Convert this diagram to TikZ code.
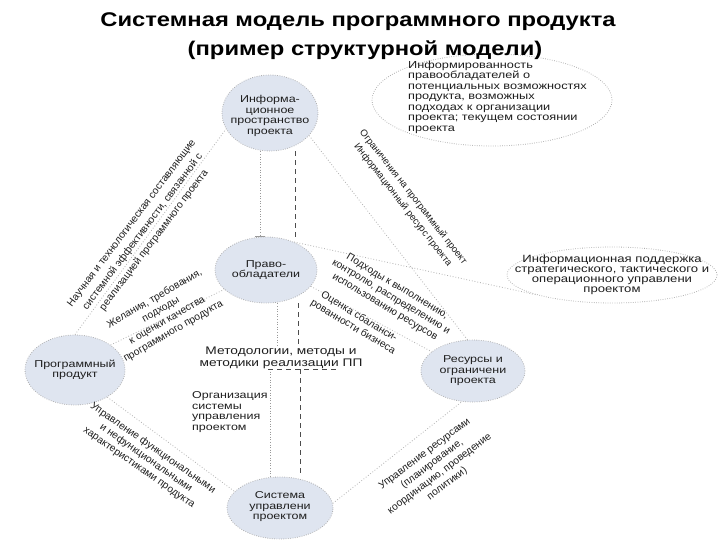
\documentclass[tikz,border=0pt]{standalone}
\usepackage{fontspec}
\setmainfont{Liberation Sans}
\newfontfamily\wide[FakeStretch=1.25]{Liberation Sans}
\newfontfamily\titlef[FakeStretch=1.2]{Liberation Sans}
\usetikzlibrary{shapes.geometric,arrows.meta}
\definecolor{nodefill}{HTML}{DFE5F0}
\definecolor{txt}{HTML}{1E1E1E}
\pgfdeclarelayer{bg}
\pgfdeclarelayer{paper}
\pgfsetlayers{paper,bg,main}
\begin{document}
\begin{tikzpicture}[x=1pt,y=-1pt,
  blob/.style={ellipse, draw=gray!65, dash pattern=on 0.7pt off 1.6pt, line width=0.8pt, fill=nodefill, inner sep=0pt},
  lab/.style={font=\wide\fontsize{10}{10.5}\selectfont, align=center, text=txt, inner sep=0pt},
  rt/.style={font=\fontsize{10.5}{13}\selectfont, align=center, text=txt, inner sep=0pt},
  link/.style={draw=gray!60, line width=0.8pt, dash pattern=on 0.8pt off 2pt},
  vdot/.style={draw=gray!80, line width=0.8pt, dash pattern=on 0.8pt off 1.8pt},
  vdash/.style={draw=black!70, line width=0.8pt, dash pattern=on 5pt off 4pt}]
\useasboundingbox (0,0) rectangle (720,540);
\begin{pgfonlayer}{paper}
\fill[white] (0,0) rectangle (720,540);
\end{pgfonlayer}

% ellipses
\node[blob, fill=white, minimum width=240pt, minimum height=92pt] (annot) at (492,100) {};
\node[blob, minimum width=96pt, minimum height=76pt,
  label={[lab, yshift=-3pt]center:{Информа-\\ционное\\пространство\\проекта}}] (info) at (270,113) {};
\node[blob, minimum width=102pt, minimum height=66pt,
  label={[lab]center:{Право-\\обладатели}}] (owner) at (266,270) {};
\node[blob, minimum width=100pt, minimum height=70pt,
  label={[lab]center:{Программный\\продукт}}] (prod) at (75,370) {};
\node[blob, minimum width=104pt, minimum height=62pt,
  label={[lab]center:{Ресурсы и\\ограничени\\проекта}}] (res) at (473,371) {};
\node[blob, minimum width=106pt, minimum height=62pt,
  label={[lab, yshift=1pt]center:{Система\\управлени\\проектом}}] (sys) at (280,508) {};
\node[blob, fill=white, minimum width=210pt, minimum height=56pt,
  label={[lab, font=\wide\fontsize{10.5}{10}\selectfont]center:{Информационная поддержка\\стратегического, тактического и\\операционного управлени\\проектом}}] (supp) at (612,275) {};

% title
\node[font=\titlef\bfseries\fontsize{19.8}{20}\selectfont, text=black] (t1) at (358,22) {Системная модель программного продукта};
\node[font=\titlef\bfseries\fontsize{19.8}{20}\selectfont, text=black] (t2) at (365,50) {(пример структурной модели)};

% annotation text
\node[lab, align=left, anchor=west, font=\wide\fontsize{10.2}{10.5}\selectfont] (annott) at (408,97)
  {Информированность\\правообладателей о\\потенциальных возможностях\\продукта, возможных\\подходах к организации\\проекта; текущем состоянии\\проекта};

% plain text nodes
\node[lab, font=\wide\fontsize{11}{12}\selectfont] (meth) at (281,358) {Методологии, методы и\\методики реализации ПП};
\node[lab, align=left, anchor=west] (org) at (192,412) {Организация\\системы\\управления\\проектом};

% rotated labels
\node[rt, rotate=53, font=\fontsize{10.3}{14}\selectfont] (sci) at (143,232)
  {Научная и технологическая составляющие\\системной эффективности, связанной с\\реализацией программного проекта};
\node[rt, rotate=30, font=\fontsize{10.3}{12.5}\selectfont] (wish) at (164,315) {Желания, требования,\\подходы\\к оценки качества\\программного продукта};
\node[rt, rotate=-52, font=\fontsize{9.6}{13}\selectfont] (lim) at (408,201) {Ограничения на программный проект\\Информационный ресурс проекта};
\node[rt, rotate=-31, font=\fontsize{10.3}{12}\selectfont] (appr) at (391,297) {Подходы к выполнению,\\контролю, распределению и\\использованию ресурсов};
\node[rt, rotate=-31, font=\fontsize{10.3}{12}\selectfont] (bal) at (356,322) {Оценка сбаланси-\\рованности бизнеса};
\node[rt, rotate=-35, font=\fontsize{10.3}{12}\selectfont] (func) at (146,458) {Управление функциональными\\и нефункциональными\\характеристиками продукта};
\node[rt, rotate=37, font=\fontsize{10.3}{12.5}\selectfont] (resm) at (436,469) {Управление ресурсами\\(планирование,\\координацию, проведение\\политики)};

\begin{pgfonlayer}{bg}
\draw[link] (prod.north) -- (info.200);
\draw[link] (prod.35) -- (owner.205);
\draw[link] (info.-30) -- (res.100);
\draw[link] (owner.45) -- (supp.195);
\draw[link] (owner.-20) -- (res.155);
\draw[link] (prod.-40) -- (sys.160);
\draw[link] (sys.5) -- (res.-110);
% vertical links
\draw[vdot, -{Bar[width=10pt]}] ([xshift=-10pt]info.south) -- ([xshift=-6pt]owner.north);
\draw[vdash] ([xshift=25pt]info.south) -- ([xshift=29pt]owner.north);
\draw[vdot] ([xshift=11pt]owner.south) -- ([xshift=-4pt]meth.north);
\draw[vdash] ([xshift=32pt]owner.south) -- ([xshift=17pt]meth.north);
\draw[vdot] ([xshift=-11pt]meth.south) -- ([xshift=-10pt]sys.north);
\draw[vdash] ([xshift=19pt]meth.south) -- ([xshift=20pt]sys.north);
\draw[vdash] ([xshift=-13pt]meth.south) -- ([xshift=57pt]meth.south);
\end{pgfonlayer}
\end{tikzpicture}
\end{document}
